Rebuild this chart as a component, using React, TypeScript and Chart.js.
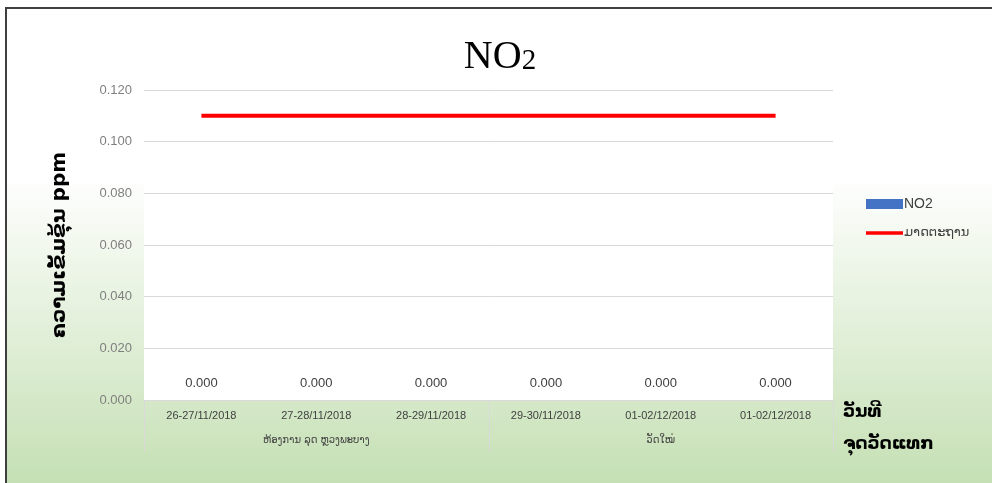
import React, { useEffect, useRef } from "react";
import { Chart, registerables } from "chart.js";

Chart.register(...registerables);

// Sampling dates (one bar per measurement period)
const categories = [
  "26-27/11/2018",
  "27-28/11/2018",
  "28-29/11/2018",
  "29-30/11/2018",
  "01-02/12/2018",
  "01-02/12/2018",
];

// Measured NO2 concentration (ppm)
const no2Values = [0, 0, 0, 0, 0, 0];

// Standard limit (ppm)
const standardValues = [0.11, 0.11, 0.11, 0.11, 0.11, 0.11];

// Measuring sites and how many sampling periods belong to each
const siteLabels = ["ຫ້ອງການ ລຸດ ຫຼວງພະບາງ", "ວັດໃໝ່"];
const siteSizes = [3, 3];

// Value axis
const yMin = 0;
const yMax = 0.12;
const yStep = 0.02;

const seriesNames = ["NO2", "ມາດຕະຖານ"];
const titleMain = "NO";
const titleSub = "2";
const yTitle = "ຄວາມເຂັ້ມຂຸ້ນ ppm";
const xSideTitle = ["ວັນທີ", "ຈຸດວັດແທກ"];

const LAO_FONT = '"DejaVu Sans", "Noto Sans", sans-serif';
const SANS_FONT = '"Liberation Sans", "DejaVu Sans", sans-serif';
const SERIF_FONT = '"Liberation Serif", "Times New Roman", serif';

const backgroundPlugin = {
  id: "panelBackground",
  beforeDraw(chart: any) {
    const { ctx, width, height, chartArea } = chart;
    ctx.save();
    ctx.fillStyle = "#ffffff";
    ctx.fillRect(0, 0, width, height);
    const g = ctx.createLinearGradient(0, 0, 0, height);
    g.addColorStop(0, "#ffffff");
    g.addColorStop(0.36, "#ffffff");
    g.addColorStop(1, "#c5e0b4");
    ctx.fillStyle = g;
    ctx.fillRect(6, 8, width - 6, height - 8);
    // white plot area
    ctx.fillStyle = "#ffffff";
    ctx.fillRect(chartArea.left, chartArea.top, chartArea.right - chartArea.left, chartArea.bottom - chartArea.top);
    // frame (top and left edges)
    ctx.strokeStyle = "#3f3f3f";
    ctx.lineWidth = 2;
    ctx.beginPath();
    ctx.moveTo(6, height);
    ctx.lineTo(6, 8);
    ctx.lineTo(width, 8);
    ctx.stroke();

    // chart title, centred on the whole panel, with a smaller "2"
    const cx = width / 2 + 4;
    const baseY = 68;
    ctx.fillStyle = "#000000";
    ctx.textBaseline = "alphabetic";
    ctx.textAlign = "left";
    ctx.font = `40px ${SERIF_FONT}`;
    const wMain = ctx.measureText(titleMain).width;
    ctx.font = `29px ${SERIF_FONT}`;
    const wSub = ctx.measureText(titleSub).width;
    const x0 = cx - (wMain + wSub) / 2;
    ctx.font = `40px ${SERIF_FONT}`;
    ctx.fillText(titleMain, x0, baseY);
    ctx.font = `29px ${SERIF_FONT}`;
    ctx.fillText(titleSub, x0 + wMain, baseY + 1);
    ctx.restore();
  },
};

const annotationsPlugin = {
  id: "extraText",
  afterDatasetsDraw(chart: any) {
    const { ctx } = chart;
    const meta = chart.getDatasetMeta(0);
    ctx.save();
    ctx.fillStyle = "#404040";
    ctx.font = `13px ${SANS_FONT}`;
    ctx.textAlign = "center";
    ctx.textBaseline = "middle";
    meta.data.forEach((el: any, i: number) => {
      const v = no2Values[i];
      ctx.fillText(v.toFixed(3), el.x, el.y - 17);
    });
    ctx.restore();
  },
  afterDraw(chart: any) {
    const { ctx, chartArea, scales } = chart;
    const x = scales.x;
    const bottom = chartArea.bottom;
    ctx.save();

    // site group separators and labels under the date ticks
    const half = (x.getPixelForValue(1) - x.getPixelForValue(0)) / 2;
    ctx.strokeStyle = "#d9d9d9";
    ctx.lineWidth = 1;
    let start = 0;
    const bounds: number[] = [x.getPixelForValue(0) - half];
    siteSizes.forEach((n) => {
      const end = start + n - 1;
      bounds.push(x.getPixelForValue(end) + half);
      start += n;
    });
    bounds.forEach((bx) => {
      ctx.beginPath();
      ctx.moveTo(Math.round(bx) + 0.5, bottom);
      ctx.lineTo(Math.round(bx) + 0.5, bottom + 52);
      ctx.stroke();
    });
    ctx.fillStyle = "#404040";
    ctx.font = `10px ${LAO_FONT}`;
    ctx.textAlign = "center";
    ctx.textBaseline = "middle";
    start = 0;
    siteSizes.forEach((n, i) => {
      const cx = (x.getPixelForValue(start) + x.getPixelForValue(start + n - 1)) / 2;
      ctx.fillText(siteLabels[i], cx, bottom + 40);
      start += n;
    });

    // axis side title
    ctx.fillStyle = "#000000";
    ctx.font = `bold 17px ${LAO_FONT}`;
    ctx.textAlign = "left";
    ctx.fillText(xSideTitle[0], chartArea.right + 10, bottom + 13);
    ctx.fillText(xSideTitle[1], chartArea.right + 10, bottom + 45);

    // legend
    const lx = chartArea.right + 33;
    const ds = chart.data.datasets;
    ctx.fillStyle = ds[0].backgroundColor;
    ctx.fillRect(lx, 199, 37, 10);
    ctx.strokeStyle = ds[1].borderColor;
    ctx.lineWidth = 3.5;
    ctx.beginPath();
    ctx.moveTo(lx, 233);
    ctx.lineTo(lx + 37, 233);
    ctx.stroke();
    ctx.fillStyle = "#404040";
    ctx.font = `14px ${SANS_FONT}`;
    ctx.fillText(ds[0].label, lx + 38, 204);
    ctx.font = `13px ${LAO_FONT}`;
    ctx.fillText(ds[1].label, lx + 38, 233);

    ctx.restore();
  },
};

export default function App() {
  const canvasRef = useRef<HTMLCanvasElement | null>(null);

  useEffect(() => {
    if (!canvasRef.current) return;
    const chart = new Chart(canvasRef.current, {
      data: {
        labels: categories,
        datasets: [
          {
            type: "bar",
            label: seriesNames[0],
            data: no2Values,
            backgroundColor: "#4472c4",
            borderWidth: 0,
            order: 2,
          },
          {
            type: "line",
            label: seriesNames[1],
            data: standardValues,
            borderColor: "#ff0000",
            backgroundColor: "#ff0000",
            borderWidth: 4,
            pointRadius: 0,
            fill: false,
            order: 1,
          },
        ],
      } as any,
      options: {
        animation: false,
        responsive: true,
        maintainAspectRatio: false,
        layout: { padding: { left: 8, right: 159, top: 90, bottom: 0 } },
        plugins: {
          legend: { display: false },
          tooltip: { enabled: false },
          title: { display: false },
        },
        scales: {
          x: {
            offset: true,
            grid: { display: false, drawTicks: false },
            border: { display: false },
            ticks: {
              color: "#404040",
              font: { family: SANS_FONT, size: 11 },
              padding: 9,
              maxRotation: 0,
              autoSkip: false,
            },
            afterFit(scale: any) {
              scale.height = 83;
            },
          },
          y: {
            min: yMin,
            max: yMax,
            grid: { color: "#d9d9d9", lineWidth: 1, drawTicks: false },
            border: { display: false },
            ticks: {
              stepSize: yStep,
              color: "#7f7f7f",
              font: { family: SANS_FONT, size: 13 },
              padding: 12,
              callback: (v: any) => Number(v).toFixed(3),
            },
            title: {
              display: true,
              text: yTitle,
              color: "#000000",
              font: { family: LAO_FONT, size: 20, weight: "bold" },
              padding: { top: 40, bottom: 0 },
            },
            afterFit(scale: any) {
              scale.width = 136;
            },
          },
        },
      } as any,
      plugins: [backgroundPlugin, annotationsPlugin],
    });
    return () => chart.destroy();
  }, []);

  return (
    <div style={{ position: "fixed", left: 0, top: 0, width: 992, height: 483 }}>
      <canvas ref={canvasRef} />
    </div>
  );
}
